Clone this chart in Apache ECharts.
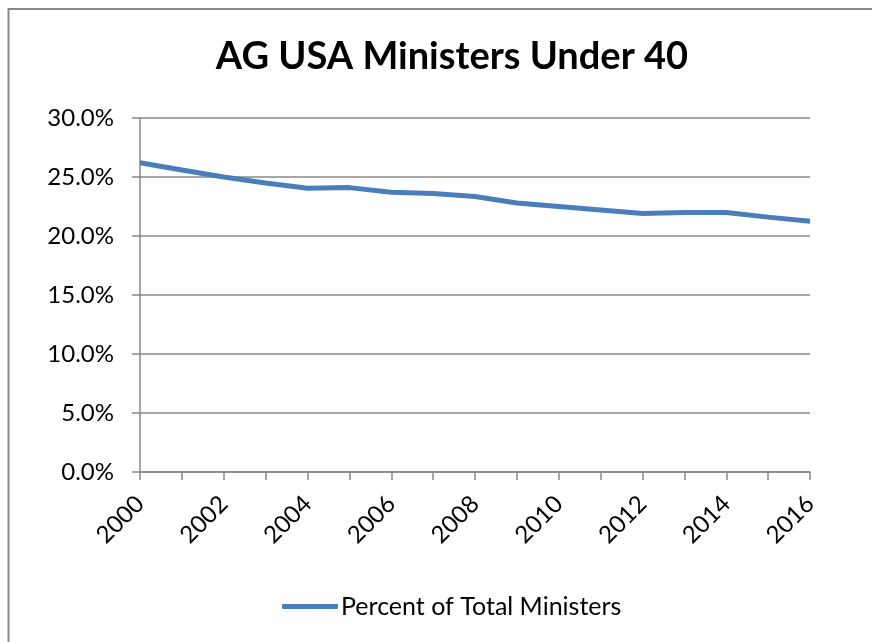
<!DOCTYPE html>
<html>
<head>
<meta charset="utf-8">
<script src="https://cdn.jsdelivr.net/npm/echarts@6/dist/echarts.min.js"></script>
<style>
html,body{margin:0;padding:0;background:#fff;}
#chart{width:872px;height:642px;}
</style>
</head>
<body>
<div id="chart"></div>
<script>
const years = ['2000','2001','2002','2003','2004','2005','2006','2007','2008','2009','2010','2011','2012','2013','2014','2015','2016'];
const percentUnder40 = [26.2,25.6,25.0,24.5,24.05,24.1,23.7,23.6,23.35,22.8,22.5,22.2,21.9,22.0,22.0,21.6,21.25];
const seriesName = 'Percent of Total Ministers';
const titleText = 'AG USA Ministers Under 40';

const FONT = 'Lato, "Open Sans", sans-serif';
const chart = echarts.init(document.getElementById('chart'));
chart.setOption({
  animation: false,
  backgroundColor: '#fff',
  graphic: [{
    type: 'rect',
    shape: {x: 8.5, y: 9, width: 900, height: 700},
    style: {fill: 'none', stroke: '#888', lineWidth: 2},
    silent: true
  }],
  title: {
    text: titleText,
    left: 447,
    textAlign: 'center',
    top: 33,
    textStyle: {fontFamily: FONT, fontWeight: 'bold', fontSize: 38, color: '#000'}
  },
  grid: {left: 140, right: 62, top: 118, bottom: 170, containLabel: false},
  legend: {
    bottom: 23,
    left: 282,
    padding: 0,
    itemWidth: 56,
    itemHeight: 5,
    itemGap: 0,
    icon: 'roundRect',
    textStyle: {fontFamily: FONT, fontSize: 25, color: '#000', padding: [0,0,0,-2]},
    data: [seriesName]
  },
  xAxis: {
    type: 'category',
    data: years,
    boundaryGap: false,
    axisLine: {lineStyle: {color: '#888', width: 1.5}},
    axisTick: {show: true, interval: 0, length: 8, lineStyle: {color: '#888', width: 1.5}},
    axisLabel: {
      interval: 1,
      rotate: 45,
      fontFamily: FONT,
      fontSize: 24,
      color: '#000',
      margin: 28
    },
    splitLine: {show: false}
  },
  yAxis: {
    type: 'value',
    min: 0,
    max: 30,
    interval: 5,
    axisLine: {show: true, lineStyle: {color: '#888', width: 1.5}},
    axisTick: {show: true, length: 8, lineStyle: {color: '#888', width: 1.5}},
    axisLabel: {
      formatter: v => v.toFixed(1) + '%',
      fontFamily: FONT,
      fontSize: 24,
      color: '#000',
      margin: 26
    },
    splitLine: {show: true, lineStyle: {color: '#888', width: 1.5}}
  },
  series: [{
    name: seriesName,
    type: 'line',
    data: percentUnder40,
    showSymbol: false,
    symbol: 'none',
    lineStyle: {color: '#4a7ebb', width: 5},
    itemStyle: {color: '#4a7ebb'}
  }]
});
</script>
</body>
</html>
